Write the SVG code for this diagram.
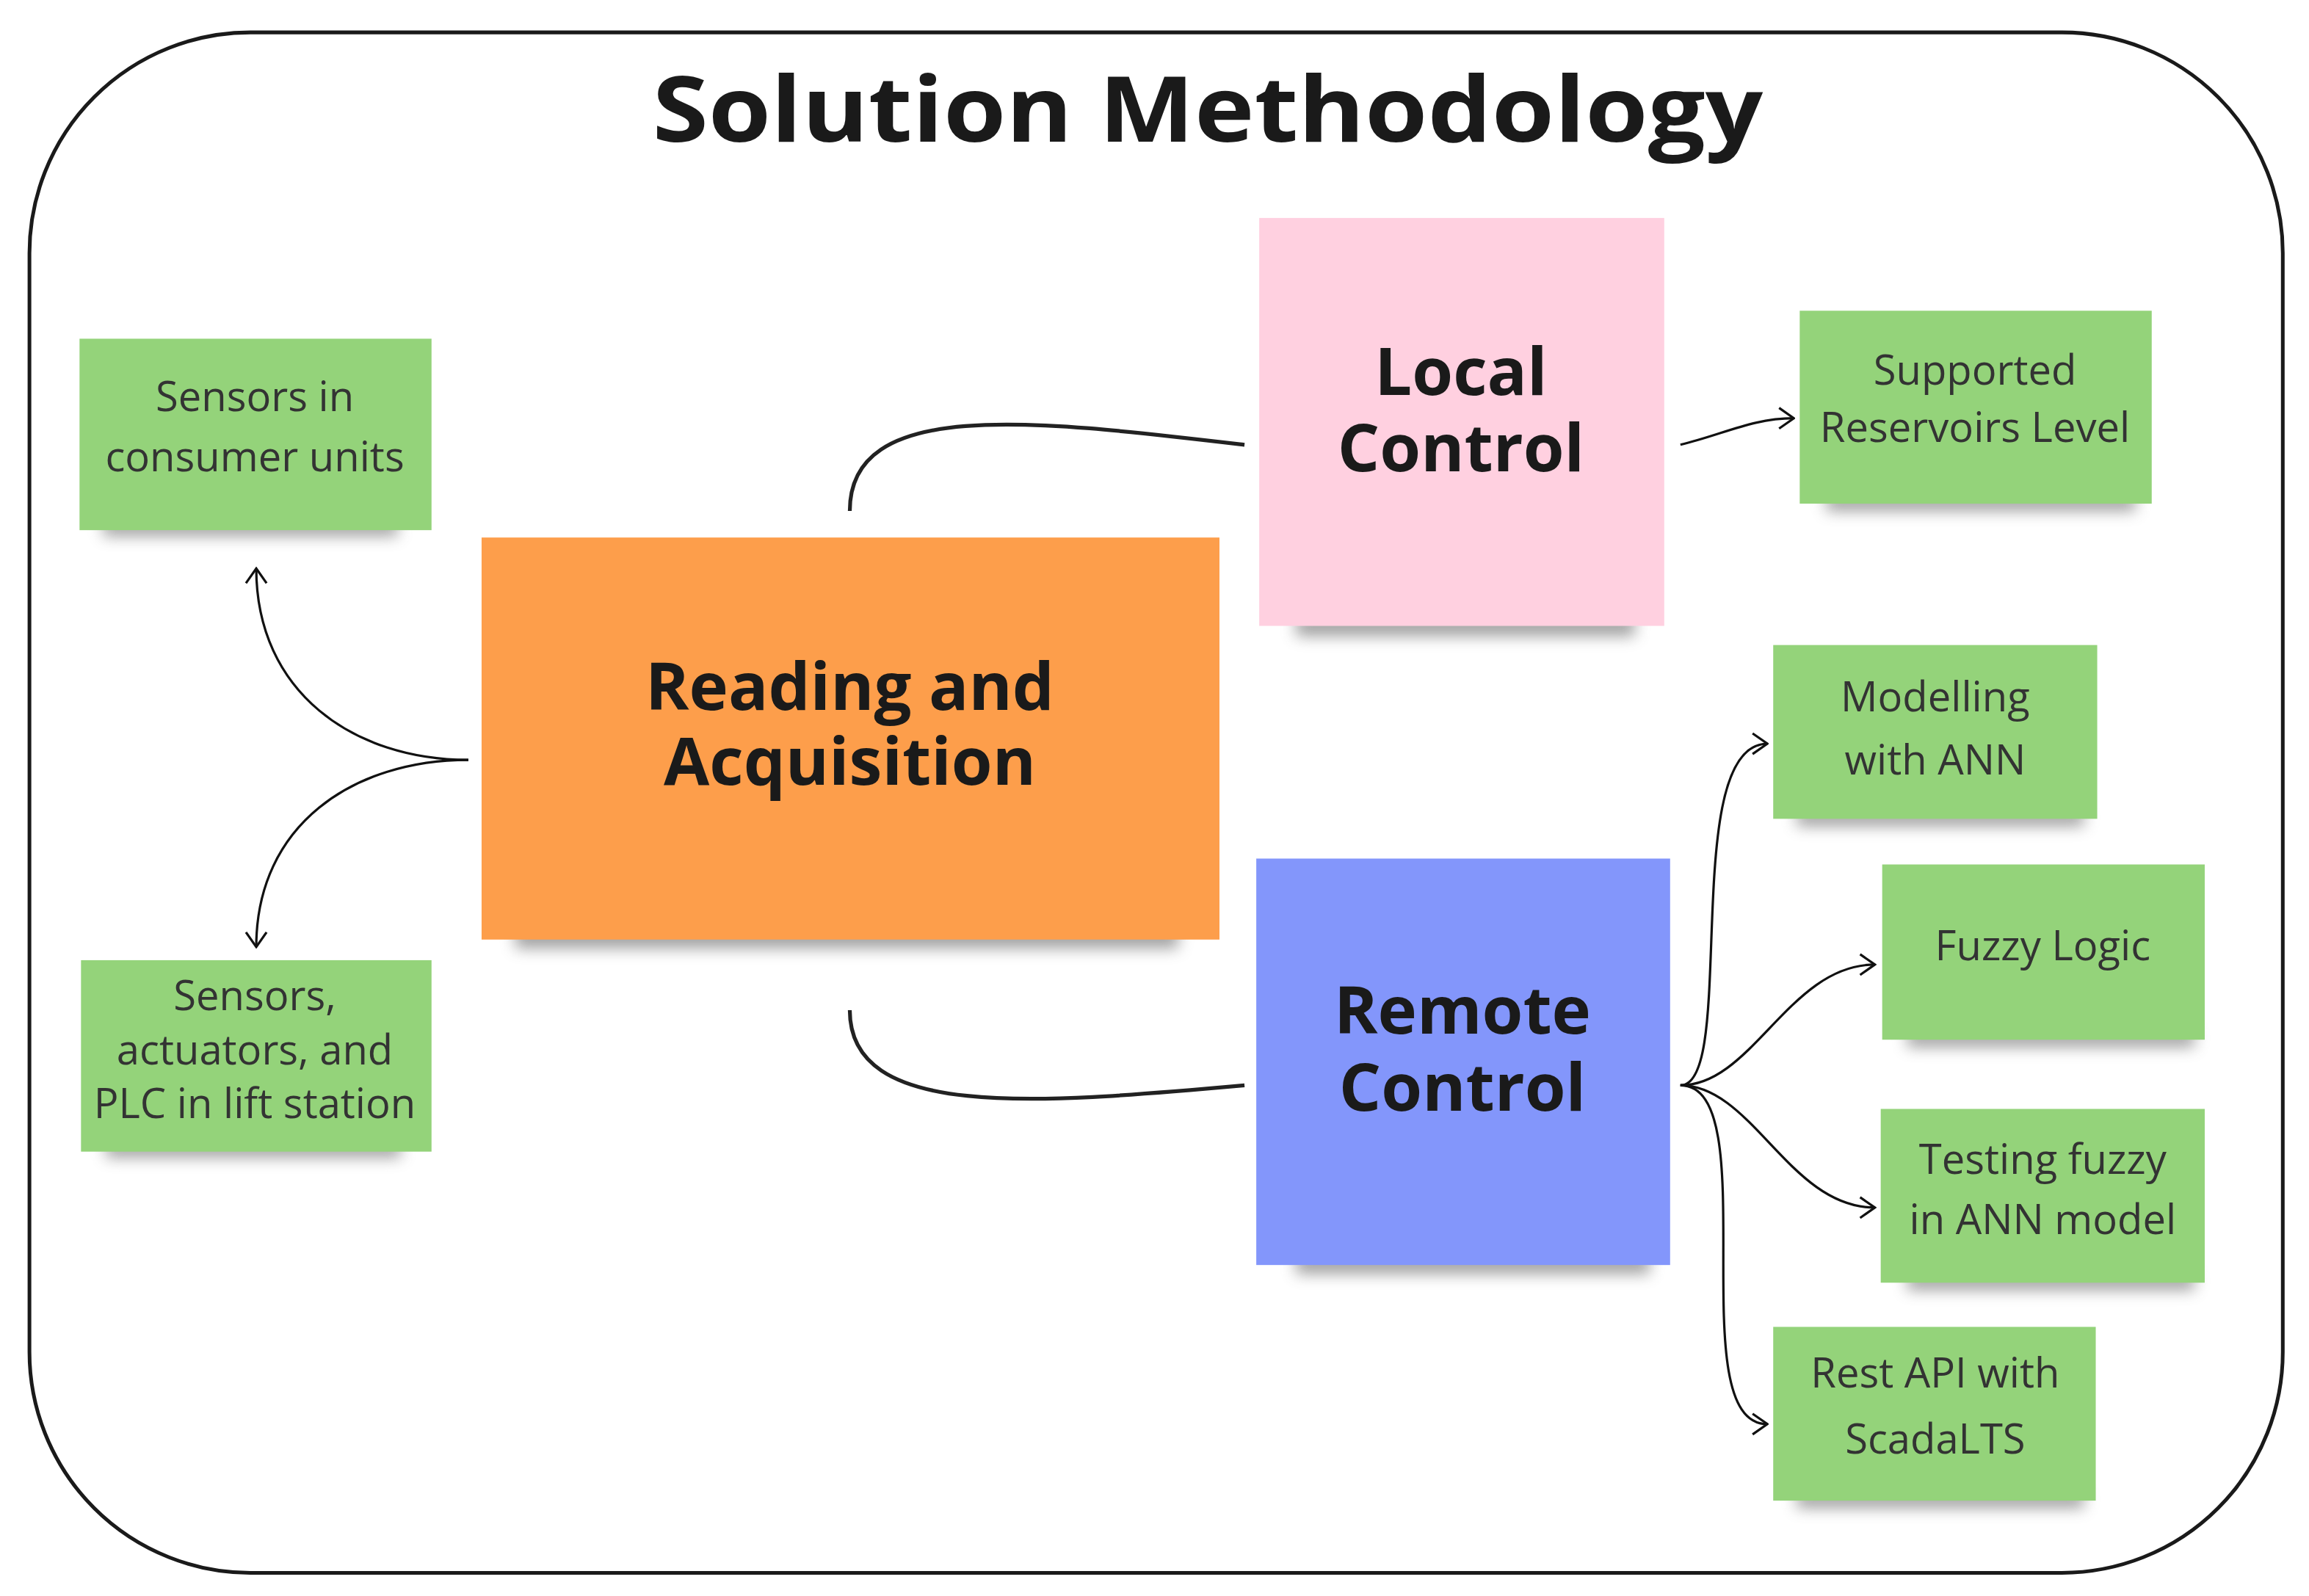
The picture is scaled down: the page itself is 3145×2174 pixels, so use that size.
<svg xmlns="http://www.w3.org/2000/svg" width="3145" height="2174" viewBox="0 0 3145 2174">
<style>
.t{font-family:"Open Sans","Noto Sans",sans-serif;text-anchor:middle}
.s{font-size:28px;fill:#333}
.b{font-size:45px;font-weight:bold;fill:#1a1a1a}
.c{fill:none;stroke:#111;stroke-width:1.6}
.th{fill:none;stroke:#222;stroke-width:2.6}
.g{fill:#94d37a}
</style>
<defs>
<filter id="sh" x="-20%" y="-20%" width="140%" height="160%"><feGaussianBlur stdDeviation="5"/></filter>
<marker id="a" viewBox="0 0 12 16" refX="11" refY="8" markerWidth="12" markerHeight="16" markerUnits="userSpaceOnUse" orient="auto"><path d="M1,1 L11,8 L1,15" fill="none" stroke="#111" stroke-width="1.6"/></marker>
</defs>
<rect width="3145" height="2174" fill="#fff"/>
<g transform="scale(2.006)">
<rect id="frame" x="20" y="22" width="1530" height="1046" rx="150" fill="none" stroke="#1a1a1a" stroke-width="2.5"/>
<text class="t" x="820" y="96" font-size="62" font-weight="bold" fill="#1a1a1a" textLength="754" lengthAdjust="spacingAndGlyphs">Solution Methodology</text>
<g id="shadows" fill="#555" opacity="0.55" filter="url(#sh)">
<rect x="70" y="352" width="200" height="12"/><rect x="72" y="774" width="200" height="12"/>
<rect x="350" y="628" width="450" height="16"/><rect x="880" y="418" width="230" height="14"/>
<rect x="1240" y="335" width="210" height="12"/><rect x="1220" y="549" width="195" height="12"/>
<rect x="880" y="851" width="240" height="14"/><rect x="1295" y="699" width="195" height="12"/>
<rect x="1295" y="864" width="195" height="12"/><rect x="1220" y="1012" width="195" height="12"/>
</g>
<g id="n1"><rect class="g" x="54" y="230" width="239" height="130"/><text class="t s" x="173" y="279">Sensors in</text><text class="t s" x="173" y="320">consumer units</text></g>
<g id="n2"><rect class="g" x="55" y="652" width="238" height="130"/><text class="t s" x="173" y="686">Sensors,</text><text class="t s" x="173" y="723">actuators, and</text><text class="t s" x="173" y="759">PLC in lift station</text></g>
<g id="n3"><rect x="327" y="365" width="501" height="273" fill="#fd9e4b"/><text class="t b" x="577" y="482">Reading and</text><text class="t b" x="577" y="533">Acquisition</text></g>
<g id="n4"><rect x="855" y="148" width="275" height="277" fill="#ffd0e0"/><text class="t b" x="992" y="268">Local</text><text class="t b" x="992" y="320">Control</text></g>
<g id="n5"><rect class="g" x="1222" y="211" width="239" height="131"/><text class="t s" x="1341" y="261">Supported</text><text class="t s" x="1341" y="300">Reservoirs Level</text></g>
<g id="n6"><rect class="g" x="1204" y="438" width="220" height="118"/><text class="t s" x="1314" y="483">Modelling</text><text class="t s" x="1314" y="526">with ANN</text></g>
<g id="n7"><rect x="853" y="583" width="281" height="276" fill="#8396fb"/><text class="t b" x="993" y="702">Remote</text><text class="t b" x="993" y="754">Control</text></g>
<g id="n8"><rect class="g" x="1278" y="587" width="219" height="119"/><text class="t s" x="1387" y="652">Fuzzy Logic</text></g>
<g id="n9"><rect class="g" x="1277" y="753" width="220" height="118"/><text class="t s" x="1387" y="797">Testing fuzzy</text><text class="t s" x="1387" y="838">in ANN model</text></g>
<g id="n10"><rect class="g" x="1204" y="901" width="219" height="118"/><text class="t s" x="1314" y="942">Rest API with</text><text class="t s" x="1314" y="987">ScadaLTS</text></g>
<g id="connectors">
<path class="th" d="M577,347 C577,270 700,285 845,302"/>
<path class="th" d="M577,686 C577,760 700,750 845,737"/>
<path class="c" marker-end="url(#a)" d="M318,516 C240,516 174,470 174,386"/>
<path class="c" marker-end="url(#a)" d="M318,516 C240,516 174,560 174,643"/>
<path class="c" marker-end="url(#a)" d="M1141,302 C1170,295 1190,284 1218,284"/>
<path class="c" marker-end="url(#a)" d="M1141,737 C1180,737 1140,505 1200,505"/>
<path class="c" marker-end="url(#a)" d="M1141,737 C1190,737 1215,655 1273,655"/>
<path class="c" marker-end="url(#a)" d="M1141,737 C1190,737 1215,820 1273,820"/>
<path class="c" marker-end="url(#a)" d="M1141,737 C1200,737 1140,967 1200,967"/>
</g>
</g>
</svg>
